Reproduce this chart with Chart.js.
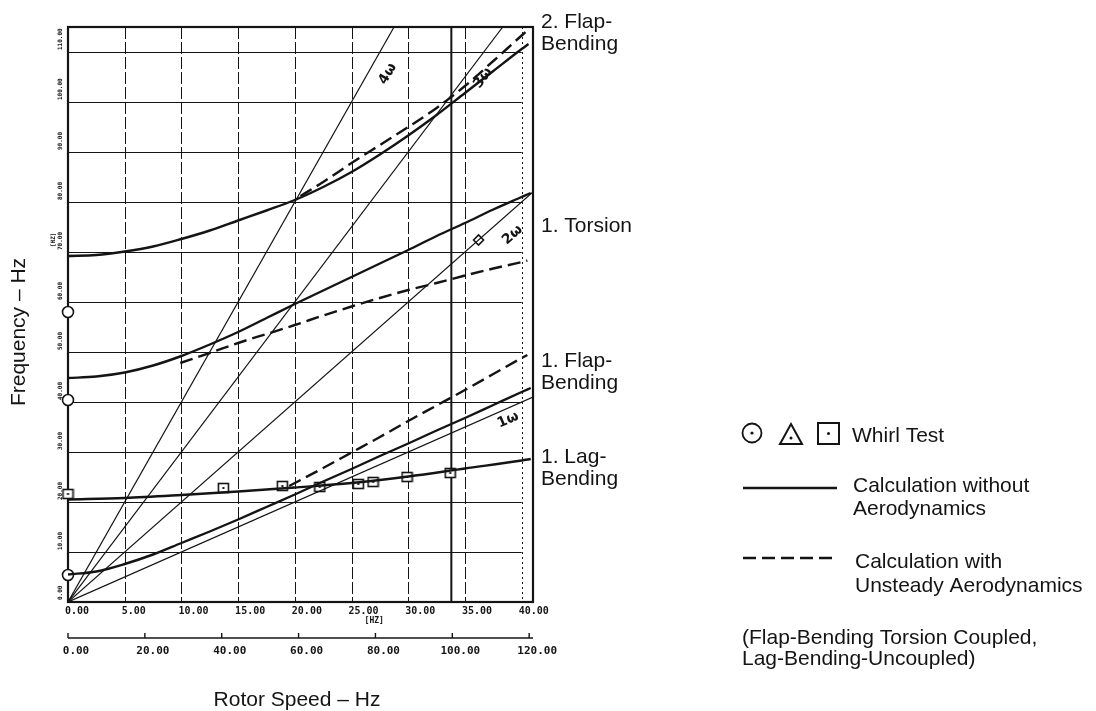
<!DOCTYPE html>
<html>
<head>
<meta charset="utf-8">
<script src="https://cdn.jsdelivr.net/npm/chart.js@4.4.1/dist/chart.umd.min.js"></script>
<style>
  html, body { margin: 0; padding: 0; background: #ffffff; }
  #wrap { position: relative; width: 1096px; height: 711px; }
  canvas { display: block; }
</style>
</head>
<body>
<div id="wrap"><canvas id="campbell" width="1096" height="711"></canvas></div>
<script>
// ---- Axis ticks -------------------------------------------------------
const speedTicks = [0, 5, 10, 15, 20, 25, 30, 35, 40];
const speedTickLabels = ['0.00', '5.00', '10.00', '15.00', '20.00', '25.00', '30.00', '35.00', '40.00'];
const speedTicks2 = [0, 20, 40, 60, 80, 100, 120];
const speedTickLabels2 = ['0.00', '20.00', '40.00', '60.00', '80.00', '100.00', '120.00'];
const freqTicks = [0, 10, 20, 30, 40, 50, 60, 70, 80, 90, 100, 110];
const freqTickLabels = ['0.00', '10.00', '20.00', '30.00', '40.00', '50.00', '60.00', '70.00', '80.00', '90.00', '100.00', '110.00'];

// Nominal rotor speed (Hz), marked by the heavy vertical line
const nominalSpeed = 33.8;

// ---- Rotor harmonics 1Ω … 4Ω (start at the origin) -------------------
const harmonicNames = ['1ω', '2ω', '3ω', '4ω'];
const harmonicEndSpeed = [41, 41, 38.33, 28.75];
const harmonicEndFreq = [41, 82, 115, 115];

// ---- Calculation without aerodynamics --------------------------------
const lag1Speed = [0, 5, 10, 15, 20, 25, 30, 35, 40, 40.8];
const lag1Freq = [20.5, 20.8, 21.4, 22.1, 22.9, 23.8, 25.1, 26.7, 28.3, 28.6];

const flap1Speed = [0, 2.5, 5, 7.5, 10, 12.5, 15, 17.5, 20, 22.5, 25, 27.5, 30, 32.5, 35, 37.5, 40, 40.8];
const flap1Freq = [5.5, 6.1, 7.6, 9.5, 11.8, 14.1, 16.5, 19.0, 21.5, 24.1, 26.6, 29.2, 31.7, 34.3, 36.8, 39.4, 42.0, 42.8];

const torsion1Speed = [0, 2.5, 5, 7.5, 10, 12.5, 15, 17.5, 20, 22.5, 25, 27.5, 30, 32.5, 35, 37.5, 40, 40.8];
const torsion1Freq = [44.8, 45.1, 45.9, 47.3, 49.2, 51.5, 54.0, 56.8, 59.6, 62.3, 65.0, 67.7, 70.4, 73.2, 75.8, 78.5, 81.0, 81.8];

const flap2Speed = [0, 2.5, 5, 7.5, 10, 12.5, 15, 17.5, 20, 22.5, 25, 27.5, 30, 32.5, 35, 37.5, 40, 40.6];
const flap2Freq = [69.2, 69.4, 70.1, 71.1, 72.6, 74.3, 76.3, 78.3, 80.4, 83.0, 86.0, 89.5, 93.3, 97.4, 101.8, 106.2, 110.6, 111.6];

// ---- Calculation with unsteady aerodynamics --------------------------
const flap1AeroSpeed = [19.5, 22.5, 25, 27.5, 30, 32.5, 35, 37.5, 40, 40.5];
const flap1AeroFreq = [23.2, 26.8, 29.9, 33.0, 36.2, 39.3, 42.4, 45.6, 48.8, 49.4];

const torsion1AeroSpeed = [9.9, 12.5, 15, 17.5, 20, 22.5, 25, 27.5, 30, 32.5, 35, 37.5, 40, 40.5];
const torsion1AeroFreq = [47.8, 49.8, 51.8, 53.6, 55.4, 57.3, 59.1, 60.8, 62.4, 63.8, 65.3, 66.7, 68.0, 68.3];

const flap2AeroSpeed = [20.5, 22.5, 25, 27.5, 30, 32.5, 35, 37.5, 40, 40.5];
const flap2AeroFreq = [81.2, 84.0, 87.8, 91.4, 95.0, 98.8, 103.2, 108.2, 113.3, 114.3];

// ---- Whirl test results ---------------------------------------------
const whirlCircleSpeed = [0, 0, 0];
const whirlCircleFreq = [58.0, 40.4, 5.4];
const whirlSquareSpeed = [0, 13.7, 18.9, 22.2, 25.6, 26.9, 29.9, 33.7];
const whirlSquareFreq = [21.6, 22.8, 23.2, 23.0, 23.6, 24.0, 25.0, 25.8];
const whirlOtherSpeed = [36.2];
const whirlOtherFreq = [72.4];

// ---------------------------------------------------------------------
const INK = '#141414';
const MONO = '"DejaVu Sans Mono", monospace';
const SANS = '"Liberation Sans", Arial, Helvetica, sans-serif';

const pts = (xs, ys) => xs.map((x, i) => ({ x, y: ys[i] }));

// small square symbol with a centre dot, used for the whirl-test points
function dottedSquare() {
  const c = document.createElement('canvas');
  c.width = 13; c.height = 12;
  const g = c.getContext('2d');
  g.fillStyle = '#ffffff';
  g.fillRect(1, 1, 11, 10);
  g.strokeStyle = INK;
  g.lineWidth = 1.6;
  g.strokeRect(1.5, 1.5, 10, 9);
  g.fillStyle = INK;
  g.fillRect(5.5, 5, 2, 2);
  return c;
}

function curve(xs, ys, dashed) {
  return {
    data: pts(xs, ys),
    showLine: true,
    borderColor: INK,
    borderWidth: 2.4,
    borderDash: dashed ? [13, 6] : [],
    pointRadius: 0,
    tension: 0.35,
    cubicInterpolationMode: 'monotone',
    fill: false
  };
}

function harmonic(i) {
  return {
    data: [{ x: 0, y: 0 }, { x: harmonicEndSpeed[i], y: harmonicEndFreq[i] }],
    showLine: true,
    borderColor: INK,
    borderWidth: 1.2,
    pointRadius: 0,
    fill: false
  };
}

function markers(xs, ys, style, r) {
  return {
    data: pts(xs, ys),
    showLine: false,
    pointStyle: style,
    pointRadius: r,
    pointBackgroundColor: '#ffffff',
    pointBorderColor: INK,
    pointBorderWidth: 1.6,
    clip: false
  };
}

const datasets = [
  harmonic(0), harmonic(1), harmonic(2), harmonic(3),
  curve(lag1Speed, lag1Freq, false),
  curve(flap1Speed, flap1Freq, false),
  curve(torsion1Speed, torsion1Freq, false),
  curve(flap2Speed, flap2Freq, false),
  curve(flap1AeroSpeed, flap1AeroFreq, true),
  curve(torsion1AeroSpeed, torsion1AeroFreq, true),
  curve(flap2AeroSpeed, flap2AeroFreq, true),
  markers(whirlCircleSpeed, whirlCircleFreq, 'circle', 5.5),
  markers(whirlSquareSpeed, whirlSquareFreq, dottedSquare(), 5),
  markers(whirlOtherSpeed, whirlOtherFreq, 'rectRot', 5)
];

// Grid, frame and the heavy nominal-speed line, under the curves
const framePlugin = {
  id: 'frame',
  beforeDatasetsDraw(chart) {
    const { ctx, chartArea: a, scales: { x, y } } = chart;
    ctx.save();
    ctx.strokeStyle = INK;
    ctx.lineCap = 'butt';
    const x40 = x.getPixelForValue(40);
    // horizontal grid
    ctx.lineWidth = 1.2;
    ctx.setLineDash([]);
    freqTicks.forEach(v => {
      if (v === 0) return;
      const py = Math.round(y.getPixelForValue(v)) + 0.5;
      ctx.beginPath(); ctx.moveTo(a.left, py); ctx.lineTo(x40, py); ctx.stroke();
    });
    // vertical grid
    ctx.lineWidth = 1;
    speedTicks.forEach(v => {
      if (v === 0) return;
      const px = Math.round(x.getPixelForValue(v)) + 0.5;
      ctx.setLineDash(v === 40 ? [2, 3] : [12, 3]);
      ctx.beginPath(); ctx.moveTo(px, a.top); ctx.lineTo(px, a.bottom); ctx.stroke();
    });
    ctx.setLineDash([]);
    // nominal speed
    ctx.lineWidth = 2;
    const pn = x.getPixelForValue(nominalSpeed);
    ctx.beginPath(); ctx.moveTo(pn, a.top); ctx.lineTo(pn, a.bottom); ctx.stroke();
    // frame
    ctx.lineWidth = 2.2;
    ctx.strokeRect(a.left, a.top, a.right - a.left, a.bottom - a.top);
    ctx.restore();
  }
};

// Tick labels, titles, curve names and the key
const textPlugin = {
  id: 'texts',
  afterDraw(chart) {
    const { ctx, chartArea: a, scales: { x, y, x2 } } = chart;
    ctx.save();
    ctx.fillStyle = INK;
    ctx.strokeStyle = INK;

    // rotor speed ticks (Hz)
    ctx.font = 'bold 10px ' + MONO;
    ctx.textAlign = 'left';
    ctx.textBaseline = 'middle';
    speedTicks.forEach((v, i) => {
      ctx.fillText(speedTickLabels[i], x.getPixelForValue(v) - 3, a.bottom + 9);
    });
    ctx.font = 'bold 8px ' + MONO;
    ctx.textAlign = 'center';
    ctx.fillText('[HZ]', x.getPixelForValue(27), a.bottom + 19);

    // secondary speed axis
    const yAx = 638;
    ctx.lineWidth = 1.4;
    ctx.beginPath();
    ctx.moveTo(x2.left, yAx); ctx.lineTo(x2.right, yAx); ctx.stroke();
    speedTicks2.forEach(v => {
      const px = x2.getPixelForValue(v);
      ctx.beginPath(); ctx.moveTo(px, yAx); ctx.lineTo(px, yAx - 5); ctx.stroke();
    });
    ctx.font = 'bold 11px ' + MONO;
    ctx.textAlign = 'center';
    speedTicks2.forEach((v, i) => {
      ctx.fillText(speedTickLabels2[i], x2.getPixelForValue(v) + 8, yAx + 13);
    });

    // frequency ticks, written upward
    ctx.font = 'bold 6px ' + MONO;
    ctx.textAlign = 'left';
    freqTicks.forEach((v, i) => {
      ctx.save();
      ctx.translate(a.left - 8, y.getPixelForValue(v) - 2);
      ctx.rotate(-Math.PI / 2);
      ctx.fillText(freqTickLabels[i], 0, 0);
      ctx.restore();
    });
    ctx.save();
    ctx.translate(a.left - 15, y.getPixelForValue(70) - 5);
    ctx.rotate(-Math.PI / 2);
    ctx.fillText('[HZ]', 0, 0);
    ctx.restore();

    // axis titles
    ctx.font = '21px ' + SANS;
    ctx.textBaseline = 'alphabetic';
    ctx.textAlign = 'center';
    ctx.fillText('Rotor Speed \u2013 Hz', 297, 706);
    ctx.save();
    ctx.translate(25, 332);
    ctx.rotate(-Math.PI / 2);
    ctx.fillText('Frequency \u2013 Hz', 0, 0);
    ctx.restore();

    // mode names at the right edge
    ctx.textAlign = 'left';
    const lx = a.right + 8;
    [['2. Flap-', 28], ['Bending', 50], ['1. Torsion', 232], ['1. Flap-', 367],
     ['Bending', 389], ['1. Lag-', 463], ['Bending', 485]].forEach(([t, by]) => ctx.fillText(t, lx, by));

    // harmonic order labels along their lines
    ctx.font = 'bold 14px "DejaVu Sans", sans-serif';
    ctx.textAlign = 'center';
    ctx.textBaseline = 'middle';
    const hl = [[38.8, 36.4], [39.2, 73.4], [36.6, 104.8], [28.2, 105.6]];
    hl.forEach(([sx, sy], i) => {
      const ang = Math.atan2(
        y.getPixelForValue(harmonicEndFreq[i]) - y.getPixelForValue(0),
        x.getPixelForValue(harmonicEndSpeed[i]) - x.getPixelForValue(0));
      ctx.save();
      ctx.translate(x.getPixelForValue(sx), y.getPixelForValue(sy));
      ctx.rotate(ang);
      ctx.fillText(harmonicNames[i], 0, 0);
      ctx.restore();
    });

    // key
    ctx.lineWidth = 1.8;
    ctx.beginPath(); ctx.arc(752, 433, 9.5, 0, Math.PI * 2); ctx.stroke();
    ctx.beginPath(); ctx.arc(752, 433, 1.6, 0, Math.PI * 2); ctx.fill();
    ctx.lineWidth = 2;
    ctx.beginPath(); ctx.moveTo(780, 444); ctx.lineTo(802, 444); ctx.lineTo(791, 424); ctx.closePath(); ctx.stroke();
    ctx.beginPath(); ctx.arc(791, 438, 1.5, 0, Math.PI * 2); ctx.fill();
    ctx.strokeRect(818, 423, 21, 21);
    ctx.beginPath(); ctx.arc(828.5, 433.5, 1.5, 0, Math.PI * 2); ctx.fill();

    ctx.lineWidth = 2.5;
    ctx.beginPath(); ctx.moveTo(743, 488); ctx.lineTo(837, 488); ctx.stroke();
    ctx.setLineDash([13, 6]);
    ctx.beginPath(); ctx.moveTo(743, 558); ctx.lineTo(837, 558); ctx.stroke();
    ctx.setLineDash([]);

    ctx.font = '21px ' + SANS;
    ctx.textAlign = 'left';
    ctx.textBaseline = 'alphabetic';
    ctx.fillText('Whirl Test', 852, 442);
    ctx.fillText('Calculation without', 853, 492);
    ctx.fillText('Aerodynamics', 853, 515);
    ctx.fillText('Calculation with', 855, 568);
    ctx.fillText('Unsteady Aerodynamics', 855, 592);
    ctx.fillText('(Flap-Bending Torsion Coupled,', 742, 644);
    ctx.fillText('Lag-Bending-Uncoupled)', 742, 665);
    ctx.restore();
  }
};

new Chart(document.getElementById('campbell'), {
  type: 'scatter',
  data: { datasets },
  options: {
    responsive: false,
    animation: false,
    devicePixelRatio: 1,
    layout: { padding: { left: 68, right: 563, top: 27, bottom: 109 } },
    plugins: { legend: { display: false }, tooltip: { enabled: false } },
    scales: {
      x: { type: 'linear', min: 0, max: 41, display: false },
      x2: { type: 'linear', position: 'bottom', min: 0, max: 121, display: false },
      y: { type: 'linear', min: 0, max: 115, display: false }
    }
  },
  plugins: [framePlugin, textPlugin]
});
</script>
</body>
</html>
